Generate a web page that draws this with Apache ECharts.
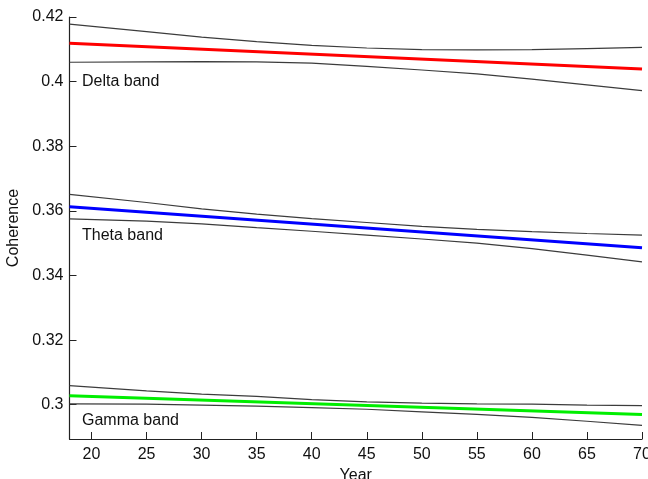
<!DOCTYPE html>
<html>
<head>
<meta charset="utf-8">
<script src="https://cdn.jsdelivr.net/npm/echarts@6/dist/echarts.min.js"></script>
<style>html,body{margin:0;padding:0;background:#fff}#c{width:648px;height:479px}</style>
</head>
<body>
<div id="c"></div>
<script>
// Data
const years = [18, 25, 30, 35, 40, 45, 50, 55, 60, 65, 70];
const fitYears = [18, 70];
const deltaFit = [0.4119, 0.4039];
const deltaUpper = [0.4178, 0.4155, 0.4138, 0.4124, 0.4112, 0.4104, 0.4099, 0.4098, 0.4099, 0.4102, 0.4106];
const deltaLower = [0.4060, 0.4061, 0.4062, 0.4061, 0.4057, 0.4047, 0.4036, 0.4024, 0.4008, 0.3990, 0.3972];
const thetaFit = [0.3613, 0.3486];
const thetaUpper = [0.3651, 0.3626, 0.3606, 0.3590, 0.3576, 0.3564, 0.3552, 0.3543, 0.3536, 0.3530, 0.3525];
const thetaLower = [0.3575, 0.3568, 0.3560, 0.3548, 0.3537, 0.3525, 0.3513, 0.3500, 0.3483, 0.3463, 0.3442];
const gammaFit = [0.3028, 0.2970];
const gammaUpper = [0.3059, 0.3043, 0.3033, 0.3026, 0.3016, 0.3009, 0.3005, 0.3003, 0.3002, 0.2999, 0.2997];
const gammaLower = [0.3003, 0.3002, 0.2999, 0.2996, 0.2991, 0.2986, 0.2978, 0.2970, 0.2961, 0.2949, 0.2936];
const xTicks = [20, 25, 30, 35, 40, 45, 50, 55, 60, 65, 70];
const yTicks = [0.30, 0.32, 0.34, 0.36, 0.38, 0.40, 0.42];
const bandLabels = ['Delta band', 'Theta band', 'Gamma band'];

const pair = (xs, ys) => xs.map((x, i) => [x, ys[i]]);
const FONT = 'Liberation Sans, Arial, sans-serif';
const ciStyle = { color: '#3c3c3c', width: 1.2 };
function ci(name, ys) {
  return { name, type: 'line', data: pair(years, ys), showSymbol: false, silent: true,
    lineStyle: ciStyle, itemStyle: { color: '#3c3c3c' }, z: 2 };
}
function fit(name, ys, color) {
  return { name, type: 'line', data: pair(fitYears, ys), showSymbol: false, silent: true,
    lineStyle: { color, width: 3 }, itemStyle: { color }, z: 3 };
}

const chart = echarts.init(document.getElementById('c'), null, { renderer: 'canvas' });
chart.setOption({
  animation: false,
  backgroundColor: '#fff',
  grid: { left: 69.5, right: 6, top: 17, bottom: 40, containLabel: false, outerBoundsMode: 'none' },
  xAxis: {
    type: 'value', min: 18, max: 70,
    name: 'Year', nameLocation: 'middle', nameGap: 26,
    nameTextStyle: { fontFamily: FONT, fontSize: 16, color: '#111' },
    axisLine: { show: true, onZero: false, lineStyle: { color: '#222', width: 1.2 } },
    axisTick: { show: true, inside: true, length: 7, customValues: xTicks, lineStyle: { color: '#222' } },
    axisLabel: { customValues: xTicks, fontFamily: FONT, fontSize: 16, color: '#111', margin: 8 },
    splitLine: { show: false }
  },
  yAxis: {
    type: 'value', min: 0.2894, max: 0.42,
    name: 'Coherence', nameLocation: 'middle', nameGap: 45, nameRotate: 90,
    nameTextStyle: { fontFamily: FONT, fontSize: 16, color: '#111' },
    axisLine: { show: true, onZero: false, lineStyle: { color: '#222', width: 1.2 } },
    axisTick: { show: true, inside: true, length: 7, customValues: yTicks, lineStyle: { color: '#222' } },
    axisLabel: { customValues: yTicks, fontFamily: FONT, fontSize: 16, color: '#111', margin: 6,
      formatter: v => String(parseFloat(v.toFixed(2))) },
    splitLine: { show: false }
  },
  series: [
    ci('Delta upper', deltaUpper), ci('Delta lower', deltaLower), fit('Delta band', deltaFit, '#ff0000'),
    ci('Theta upper', thetaUpper), ci('Theta lower', thetaLower), fit('Theta band', thetaFit, '#0000ff'),
    ci('Gamma upper', gammaUpper), ci('Gamma lower', gammaLower), fit('Gamma band', gammaFit, '#00ee00')
  ],
  graphic: [
    { type: 'text', left: 82, top: 74, style: { text: bandLabels[0], font: '16px ' + FONT, fill: '#111' } },
    { type: 'text', left: 82, top: 228, style: { text: bandLabels[1], font: '16px ' + FONT, fill: '#111' } },
    { type: 'text', left: 82, top: 413, style: { text: bandLabels[2], font: '16px ' + FONT, fill: '#111' } }
  ]
});
</script>
</body>
</html>
